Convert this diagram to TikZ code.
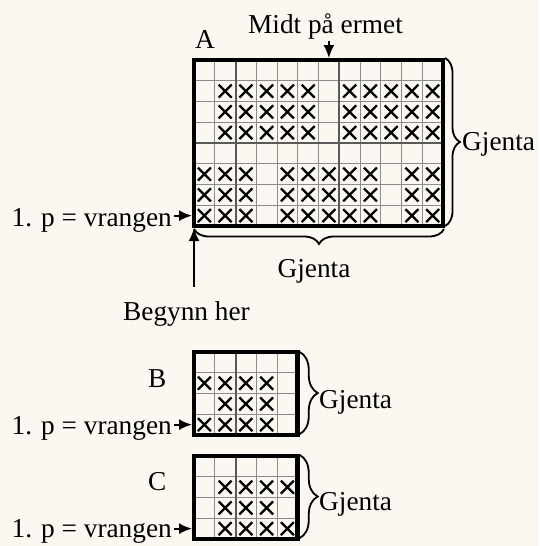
\documentclass[tikz,border=0pt]{standalone}
\usepackage{fontspec}
\setmainfont{Liberation Serif}
\usetikzlibrary{arrows.meta,decorations.pathreplacing}
\definecolor{papir}{HTML}{FAF8F1}
\newcommand{\rute}{20.75}
\tikzset{%
	% Stiler for tekst, ruter, rammer og piler:
	tekst/.style = {font=\fontsize{27.3}{32}\selectfont, inner sep=2pt},
	rutenett/.style = {draw=black!45, line width=1pt},
	skille/.style = {draw=black!65, line width=2pt},
	ramme/.style = {draw=black, line width=4.8pt},
	klamme/.style = {decorate, decoration={brace, amplitude=#1}, line width=1.8pt},
	klamme/.default = 15pt,
	pil/.style = {-{Latex[width=11pt,length=13pt]}, line width=2pt},
	kryss/.pic = {\draw[line width=2.4pt] (-6.5,-6.5) -- (6.5,6.5) (-6.5,6.5) -- (6.5,-6.5);}
}
% #1 = kolonner, #2 = rader
\newcommand{\ruter}[2]{%
	\foreach \i in {1,...,#1} \draw[rutenett] (\i*\rute,0) -- (\i*\rute,#2*\rute);
	\foreach \j in {1,...,#2} \draw[rutenett] (0,\j*\rute) -- (#1*\rute,\j*\rute);
}
% #1 = rad, #2 = kolonner med kryss
\newcommand{\kryssrad}[2]{%
	\foreach \k in {#2} \pic at ({(\k-0.5)*\rute},{(#1-0.5)*\rute}) {kryss};
}

\begin{document}
\begin{tikzpicture}[x=1pt, y=-1pt, every node/.style={tekst}]
	\fill[papir] (0,0) rectangle (539,546);
	\useasboundingbox (0,0) rectangle (539,546);

	% Diagram A
	\begin{scope}[shift={(194,60)}]
		\ruter{12}{8}
		\draw[skille] (2*\rute,0) -- (2*\rute,8*\rute) (7*\rute,0) -- (7*\rute,8*\rute)
			(0,4*\rute) -- (12*\rute,4*\rute);
		\foreach \r in {2,3,4} {\kryssrad{\r}{2,3,4,5,6,8,9,10,11,12}}
		\foreach \r in {6,7,8} {\kryssrad{\r}{1,2,3,5,6,7,8,9,11,12}}
		\draw[ramme] (0,0) rectangle (12*\rute,8*\rute);
		\coordinate (A-midt)  at (6.5*\rute,-2);
		\coordinate (A-rad1)  at (-2,7.5*\rute);
		\coordinate (A-start) at (0,8*\rute+2);
		\coordinate (A-ho)    at (12*\rute+2,-2);
		\coordinate (A-hn)    at (12*\rute+2,8*\rute);
		\coordinate (A-bh)    at (12*\rute+1,8*\rute+3);
		\coordinate (A-bv)    at (0,8*\rute+3);
	\end{scope}

	% Diagram B
	\begin{scope}[shift={(194,352)}]
		\ruter{5}{4}
		\draw[skille] (2*\rute,0) -- (2*\rute,4*\rute);
		\kryssrad{2}{1,2,3,4}
		\kryssrad{3}{2,3,4}
		\kryssrad{4}{1,2,3,4}
		\draw[ramme] (0,0) rectangle (5*\rute,4*\rute);
		\coordinate (B-rad1) at (-2,3.5*\rute);
		\coordinate (B-ho)   at (5*\rute+2,0);
		\coordinate (B-hn)   at (5*\rute+2,4*\rute-1);
	\end{scope}

	% Diagram C
	\begin{scope}[shift={(194,456)}]
		\ruter{5}{4}
		\draw[skille] (2*\rute,0) -- (2*\rute,4*\rute);
		\kryssrad{2}{2,3,4,5}
		\kryssrad{3}{2,3,4}
		\kryssrad{4}{2,3,4,5}
		\draw[ramme] (0,0) rectangle (5*\rute,4*\rute);
		\coordinate (C-rad1) at (-2,3.5*\rute);
		\coordinate (C-ho)   at (5*\rute+2,-1);
		\coordinate (C-hn)   at (5*\rute+2,4*\rute-1);
	\end{scope}

	% Tekster
	\node (A)       [anchor=base west] at (193,48)    {A};
	\node (midt)    [anchor=base]      at (325.5,33)  {Midt på ermet};
	\node (vrangA)  [anchor=base east] at (174,226.7) {1. p = vrangen};
	\node (begynn)  [anchor=base]      at (186.5,320) {Begynn her};
	\node (gjentaA) [anchor=base west] at (460,150)   {Gjenta};
	\node (gjentaU) [anchor=base]      at (314,277)   {Gjenta};
	\node (B)       [anchor=base west] at (146,387)   {B};
	\node (vrangB)  [anchor=base east] at (174,434)   {1. p = vrangen};
	\node (gjentaB) [anchor=base west] at (317,408)   {Gjenta};
	\node (C)       [anchor=base west] at (146,490)   {C};
	\node (vrangC)  [anchor=base east] at (174,537)   {1. p = vrangen};
	\node (gjentaC) [anchor=base west] at (317,510)   {Gjenta};

	\draw[pil] (midt.south -| A-midt) -- (A-midt);
	\draw[pil] (vrangA.east |- A-rad1) -- (A-rad1);
	\draw[pil, shorten <=12pt] (begynn.north -| A-start) -- (A-start);
	\draw[pil] (vrangB.east |- B-rad1) -- (B-rad1);
	\draw[pil] (vrangC.east |- C-rad1) -- (C-rad1);

	\draw[klamme] (A-ho) -- (A-hn);
	\draw[klamme] (A-bh) -- (A-bv);
	\draw[klamme=18pt] (B-ho) -- (B-hn);
	\draw[klamme=18pt] (C-ho) -- (C-hn);
\end{tikzpicture}
\end{document}
